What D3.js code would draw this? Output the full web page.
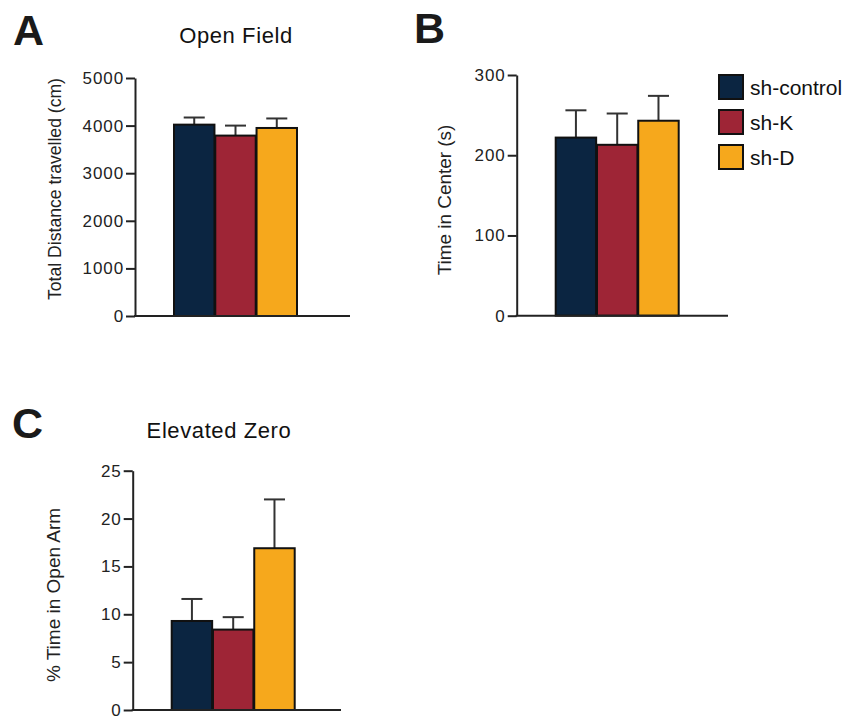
<!DOCTYPE html>
<html>
<head>
<meta charset="utf-8">
<script src="https://cdn.jsdelivr.net/npm/d3@7"></script>
<style>
  html, body { margin: 0; padding: 0; background: #fff; }
  svg { display: block; font-family: "Liberation Sans", Arial, Helvetica, sans-serif; }
</style>
</head>
<body>
<svg id="fig" width="847" height="719"></svg>
<script>
// Groups and colours
const groups = ["sh-control", "sh-K", "sh-D"];
const groupColors = ["#0b2541", "#9e2536", "#f6a81c"];

// Open field: total distance travelled (cm), mean and SEM
const distanceMean = [4020, 3790, 3950];
const distanceSem = [150, 210, 200];
const distanceTicks = [0, 1000, 2000, 3000, 4000, 5000];

// Open field: time in centre (s)
const centerMean = [222, 213, 243];
const centerSem = [34, 39, 31];
const centerTicks = [0, 100, 200, 300];

// Elevated zero maze: % time in open arm
const openArmMean = [9.3, 8.4, 16.9];
const openArmSem = [2.3, 1.3, 5.1];
const openArmTicks = [0, 5, 10, 15, 20, 25];

const svg = d3.select("#fig");
const ink = "#222";

function panel(cfg) {
  const g = svg.append("g");
  const y = d3.scaleLinear().domain([0, cfg.max]).range([cfg.bottom, cfg.top]);
  const x = d3.scaleBand().domain(groups)
    .range([cfg.axisX + 39, cfg.axisX + 39 + 123]).paddingInner(0.02);

  // bars with upper SEM whiskers
  const bars = g.selectAll("g.bar").data(groups).join("g").attr("class", "bar");
  bars.append("line")
    .attr("x1", d => x(d) + x.bandwidth() / 2)
    .attr("x2", d => x(d) + x.bandwidth() / 2)
    .attr("y1", (d, i) => y(cfg.mean[i]))
    .attr("y2", (d, i) => y(cfg.mean[i] + cfg.sem[i]))
    .attr("stroke", "#333").attr("stroke-width", 2);
  bars.append("line")
    .attr("x1", d => x(d) + x.bandwidth() * 0.24)
    .attr("x2", d => x(d) + x.bandwidth() * 0.76)
    .attr("y1", (d, i) => y(cfg.mean[i] + cfg.sem[i]))
    .attr("y2", (d, i) => y(cfg.mean[i] + cfg.sem[i]))
    .attr("stroke", "#333").attr("stroke-width", 2);
  bars.append("rect")
    .attr("x", d => x(d))
    .attr("width", x.bandwidth())
    .attr("y", (d, i) => y(cfg.mean[i]))
    .attr("height", (d, i) => y(0) - y(cfg.mean[i]))
    .attr("fill", (d, i) => groupColors[i])
    .attr("stroke", "#111").attr("stroke-width", 2);

  // y axis
  const ax = g.append("g")
    .attr("transform", `translate(${cfg.axisX},0)`)
    .call(d3.axisLeft(y).tickValues(cfg.ticks).tickFormat(d3.format("d"))
      .tickSize(9).tickSizeOuter(0).tickPadding(2));
  ax.attr("font-size", null).attr("font-family", null);
  ax.select(".domain").attr("stroke", ink).attr("stroke-width", 2);
  ax.selectAll(".tick line").attr("stroke", ink).attr("stroke-width", 2);
  ax.selectAll(".tick text")
    .attr("fill", ink).attr("font-size", 17)
    .style("letter-spacing", "0.9px");

  // x baseline
  g.append("line")
    .attr("x1", cfg.axisX - 1).attr("x2", cfg.xEnd)
    .attr("y1", y(0)).attr("y2", y(0))
    .attr("stroke", ink).attr("stroke-width", 2);

  // y label
  g.append("text")
    .attr("transform", `translate(${cfg.labelX},${cfg.labelY}) rotate(-90)`)
    .attr("text-anchor", "middle")
    .attr("font-size", cfg.labelSize).attr("fill", ink)
    .text(cfg.yLabel);

  // title
  if (cfg.title) {
    g.append("text")
      .attr("x", cfg.titleX).attr("y", cfg.titleY)
      .attr("text-anchor", "middle")
      .attr("font-size", 22).attr("fill", "#111")
      .style("letter-spacing", "0.6px")
      .text(cfg.title);
  }

  // panel letter
  g.append("text")
    .attr("x", cfg.letterX).attr("y", cfg.letterY)
    .attr("font-size", 43).attr("font-weight", "bold").attr("fill", "#1a1a1a")
    .text(cfg.letter);
}

panel({
  letter: "A", letterX: 13, letterY: 45,
  title: "Open Field", titleX: 236, titleY: 43,
  yLabel: "Total Distance travelled (cm)", labelX: 61, labelY: 189, labelSize: 17.6,
  axisX: 135, top: 78, bottom: 316, xEnd: 350,
  max: 5000, ticks: distanceTicks, mean: distanceMean, sem: distanceSem
});

panel({
  letter: "B", letterX: 414, letterY: 43,
  title: null,
  yLabel: "Time in Center (s)", labelX: 451, labelY: 200, labelSize: 18.9,
  axisX: 516.7, top: 75, bottom: 315.7, xEnd: 728,
  max: 300, ticks: centerTicks, mean: centerMean, sem: centerSem
});

panel({
  letter: "C", letterX: 12, letterY: 438,
  title: "Elevated Zero", titleX: 219, titleY: 438,
  yLabel: "% Time in Open Arm", labelX: 60, labelY: 595, labelSize: 19,
  axisX: 132.7, top: 470.7, bottom: 710, xEnd: 341,
  max: 25, ticks: openArmTicks, mean: openArmMean, sem: openArmSem
});

// legend
const legend = svg.append("g").attr("transform", "translate(719,75)");
const items = legend.selectAll("g").data(groups).join("g")
  .attr("transform", (d, i) => `translate(0,${i * 35})`);
items.append("rect")
  .attr("width", 24).attr("height", 24)
  .attr("fill", (d, i) => groupColors[i])
  .attr("stroke", "#111").attr("stroke-width", 2);
items.append("text")
  .attr("x", 31).attr("y", 20)
  .attr("font-size", 21).attr("fill", "#111")
  .text(d => d);
</script>
</body>
</html>
